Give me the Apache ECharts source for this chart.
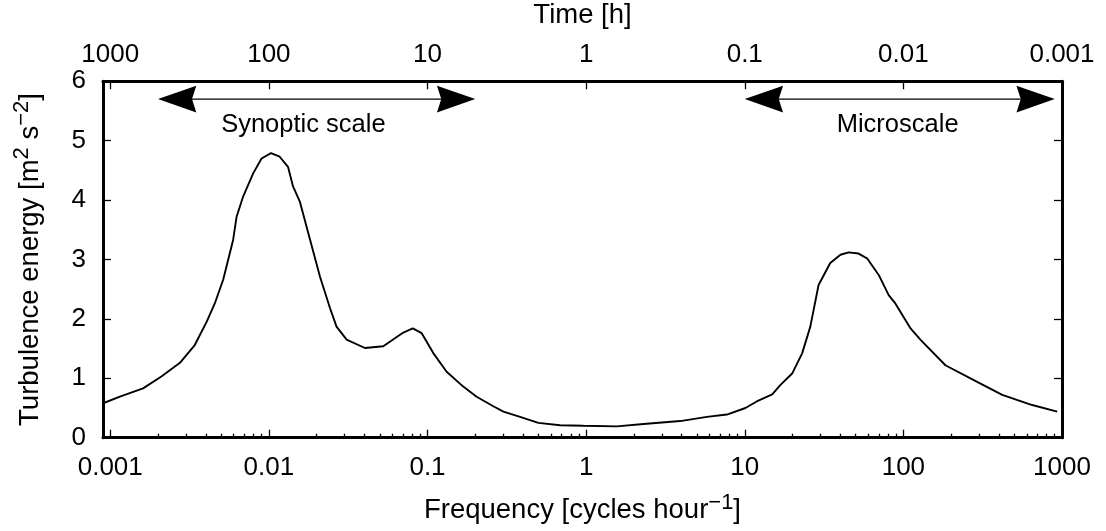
<!DOCTYPE html>
<html><head><meta charset="utf-8">
<script src="https://cdn.jsdelivr.net/npm/echarts@6/dist/echarts.min.js"></script>
<style>html,body{margin:0;padding:0;background:#fff}#c{width:1106px;height:531px}</style>
</head><body><div id="c"></div>
<script>
// ---- data ----
const freq = [0.000901, 0.00115, 0.00161, 0.0021, 0.00275, 0.00341, 0.00405, 0.00456, 0.00515, 0.00595,
  0.00626, 0.00688, 0.00796, 0.00899, 0.0103, 0.0117, 0.0132, 0.0142, 0.0157, 0.0182,
  0.021, 0.0243, 0.0267, 0.0309, 0.0403, 0.0526, 0.0704, 0.0807, 0.0919, 0.109,
  0.132, 0.168, 0.204, 0.26, 0.301, 0.383, 0.5, 0.686, 0.962, 1.56,
  2.3, 3.92, 5.77, 7.72, 10.1, 11.9, 14.9, 16.8, 19.9, 23,
  25.9, 29.2, 34.6, 40.1, 45.2, 52.2, 59, 69.9, 80.8, 89,
  111, 128, 184, 278, 420, 649, 933];
const energy = [0.58, 0.69, 0.83, 1.03, 1.26, 1.56, 1.95, 2.26, 2.66, 3.33,
  3.72, 4.06, 4.45, 4.70, 4.79, 4.73, 4.56, 4.23, 3.97, 3.33,
  2.71, 2.18, 1.87, 1.65, 1.51, 1.54, 1.77, 1.84, 1.76, 1.42,
  1.11, 0.86, 0.69, 0.53, 0.44, 0.35, 0.25, 0.21, 0.20, 0.19,
  0.23, 0.28, 0.35, 0.39, 0.50, 0.61, 0.73, 0.89, 1.08, 1.42,
  1.87, 2.57, 2.94, 3.08, 3.12, 3.10, 3.02, 2.74, 2.40, 2.26,
  1.84, 1.65, 1.22, 0.97, 0.72, 0.55, 0.44];
const freqTicks = [0.001, 0.01, 0.1, 1, 10, 100, 1000];
const freqTickLabels = ['0.001', '0.01', '0.1', '1', '10', '100', '1000'];
const timeTickLabels = ['1000', '100', '10', '1', '0.1', '0.01', '0.001'];
const minorMultipliers = [2, 3, 4, 5, 6, 7, 8, 9];
const arrowLevel = 5.7;
const synopticRange = [0.002, 0.2];
const microRange = [10, 900];
const scaleLabels = ['Synoptic scale', 'Microscale'];
const scaleLabelFreq = [0.0165, 92];
const scaleLabelLevel = 5.26;

// ---- chart ----
const FONT = 'Liberation Sans';
const XMIN = 0.0009, XMAX = 1000;
const minorTicks = [];
freqTicks.slice(0, -1).forEach(d => minorMultipliers.forEach(m => minorTicks.push(+(d * m).toPrecision(3))));
const tickIndex = v => freqTicks.findIndex(t => Math.abs(Math.log10(t) - Math.log10(v)) < 1e-6);

const chart = echarts.init(document.getElementById('c'), null, {renderer: 'canvas'});
const gridBox = {left: 103, right: 44, top: 81.3, bottom: 93.3, containLabel: false, outerBoundsMode: 'none'};
const TICKFS = 26, TITLEFS = 27.5, NOTEFS = 25.5;
const nameStyle = {
  fontSize: TITLEFS, color: '#000', fontFamily: FONT,
  rich: {sup: {fontSize: 22, color: '#000', fontFamily: FONT, padding: [0, 0, 16, 0]}}
};
const lineBlack = {color: '#000', width: 3};
const tickStyle = {color: '#000', width: 1.3};

chart.setOption({
  animation: false,
  backgroundColor: '#fff',
  textStyle: {fontFamily: FONT},
  grid: [Object.assign({}, gridBox), Object.assign({}, gridBox)],
  xAxis: [
    {
      type: 'log', logBase: 10, gridIndex: 0, position: 'bottom', min: XMIN, max: XMAX,
      axisLine: {show: true, onZero: false, lineStyle: lineBlack},
      axisTick: {show: true, inside: true, length: 8, customValues: freqTicks, lineStyle: tickStyle},
      axisLabel: {show: true, customValues: freqTicks, fontSize: TICKFS, color: '#000', fontFamily: FONT, margin: 17,
        formatter: v => freqTickLabels[tickIndex(v)]},
      splitLine: {show: false}, minorTick: {show: false}, minorSplitLine: {show: false},
      name: 'Frequency [cycles hour{sup|\u22121}]', nameLocation: 'middle', nameGap: 54, nameTextStyle: nameStyle
    },
    {
      type: 'log', logBase: 10, gridIndex: 1, position: 'top', min: XMIN, max: XMAX,
      axisLine: {show: true, onZero: false, lineStyle: lineBlack},
      axisTick: {show: true, inside: true, length: 8, customValues: freqTicks, lineStyle: tickStyle},
      axisLabel: {show: true, customValues: freqTicks, fontSize: TICKFS, color: '#000', fontFamily: FONT, margin: 13,
        formatter: v => timeTickLabels[tickIndex(v)]},
      splitLine: {show: false}, minorTick: {show: false},
      name: 'Time [h]', nameLocation: 'middle', nameGap: 52, nameTextStyle: {fontSize: TITLEFS, color: '#000', fontFamily: FONT}
    },
    {
      type: 'log', logBase: 10, gridIndex: 1, position: 'bottom', min: XMIN, max: XMAX,
      axisLine: {show: false},
      axisTick: {show: true, inside: true, length: 4, customValues: minorTicks, lineStyle: tickStyle},
      axisLabel: {show: false}, splitLine: {show: false}, minorTick: {show: false}
    }
  ],
  yAxis: [
    {
      type: 'value', gridIndex: 0, position: 'left', min: 0, max: 6, interval: 1,
      axisLine: {show: true, onZero: false, lineStyle: lineBlack},
      axisTick: {show: true, inside: true, length: 8, lineStyle: tickStyle},
      axisLabel: {show: true, fontSize: TICKFS, color: '#000', fontFamily: FONT, margin: 17},
      splitLine: {show: false},
      name: 'Turbulence energy [m{sup|2} s{sup|\u22122}]', nameLocation: 'middle', nameRotate: 90, nameGap: 54,
      nameTextStyle: nameStyle
    },
    {
      type: 'value', gridIndex: 0, position: 'right', min: 0, max: 6, interval: 1,
      axisLine: {show: true, onZero: false, lineStyle: lineBlack},
      axisTick: {show: true, inside: true, length: 8, lineStyle: tickStyle},
      axisLabel: {show: false}, splitLine: {show: false}
    },
    {
      type: 'value', gridIndex: 1, min: 0, max: 6, show: false
    }
  ],
  series: [{
    type: 'line', xAxisIndex: 0, yAxisIndex: 0, showSymbol: false, symbol: 'none', smooth: false,
    lineStyle: {color: '#000', width: 1.9}, silent: true,
    data: freq.map((f, i) => [f, energy[i]])
  }]
});

function buildAnnotations() {
  const px = (f, v) => chart.convertToPixel({xAxisIndex: 0, yAxisIndex: 0}, [f, v]);
  const L = 38.3, H = 13.3, N = 4.3;
  const els = [];
  [synopticRange, microRange].forEach(r => {
    const a = px(r[0], arrowLevel), b = px(r[1], arrowLevel);
    els.push({type: 'line', shape: {x1: a[0] + L - N, y1: a[1], x2: b[0] - L + N, y2: b[1]},
      style: {stroke: '#000', lineWidth: 1.2}, silent: true});
    els.push({type: 'polygon', shape: {points: [[a[0], a[1]], [a[0] + L, a[1] - H], [a[0] + L - N, a[1]], [a[0] + L, a[1] + H]]},
      style: {fill: '#000'}, silent: true});
    els.push({type: 'polygon', shape: {points: [[b[0], b[1]], [b[0] - L, b[1] - H], [b[0] - L + N, b[1]], [b[0] - L, b[1] + H]]},
      style: {fill: '#000'}, silent: true});
  });
  scaleLabels.forEach((t, i) => {
    const p = px(scaleLabelFreq[i], scaleLabelLevel);
    els.push({type: 'text', x: p[0], y: p[1], silent: true,
      style: {text: t, fontSize: NOTEFS, fontFamily: FONT, fill: '#000', align: 'center', verticalAlign: 'middle'}});
  });
  chart.setOption({graphic: {elements: els}});
}
buildAnnotations();
</script>
</body></html>
